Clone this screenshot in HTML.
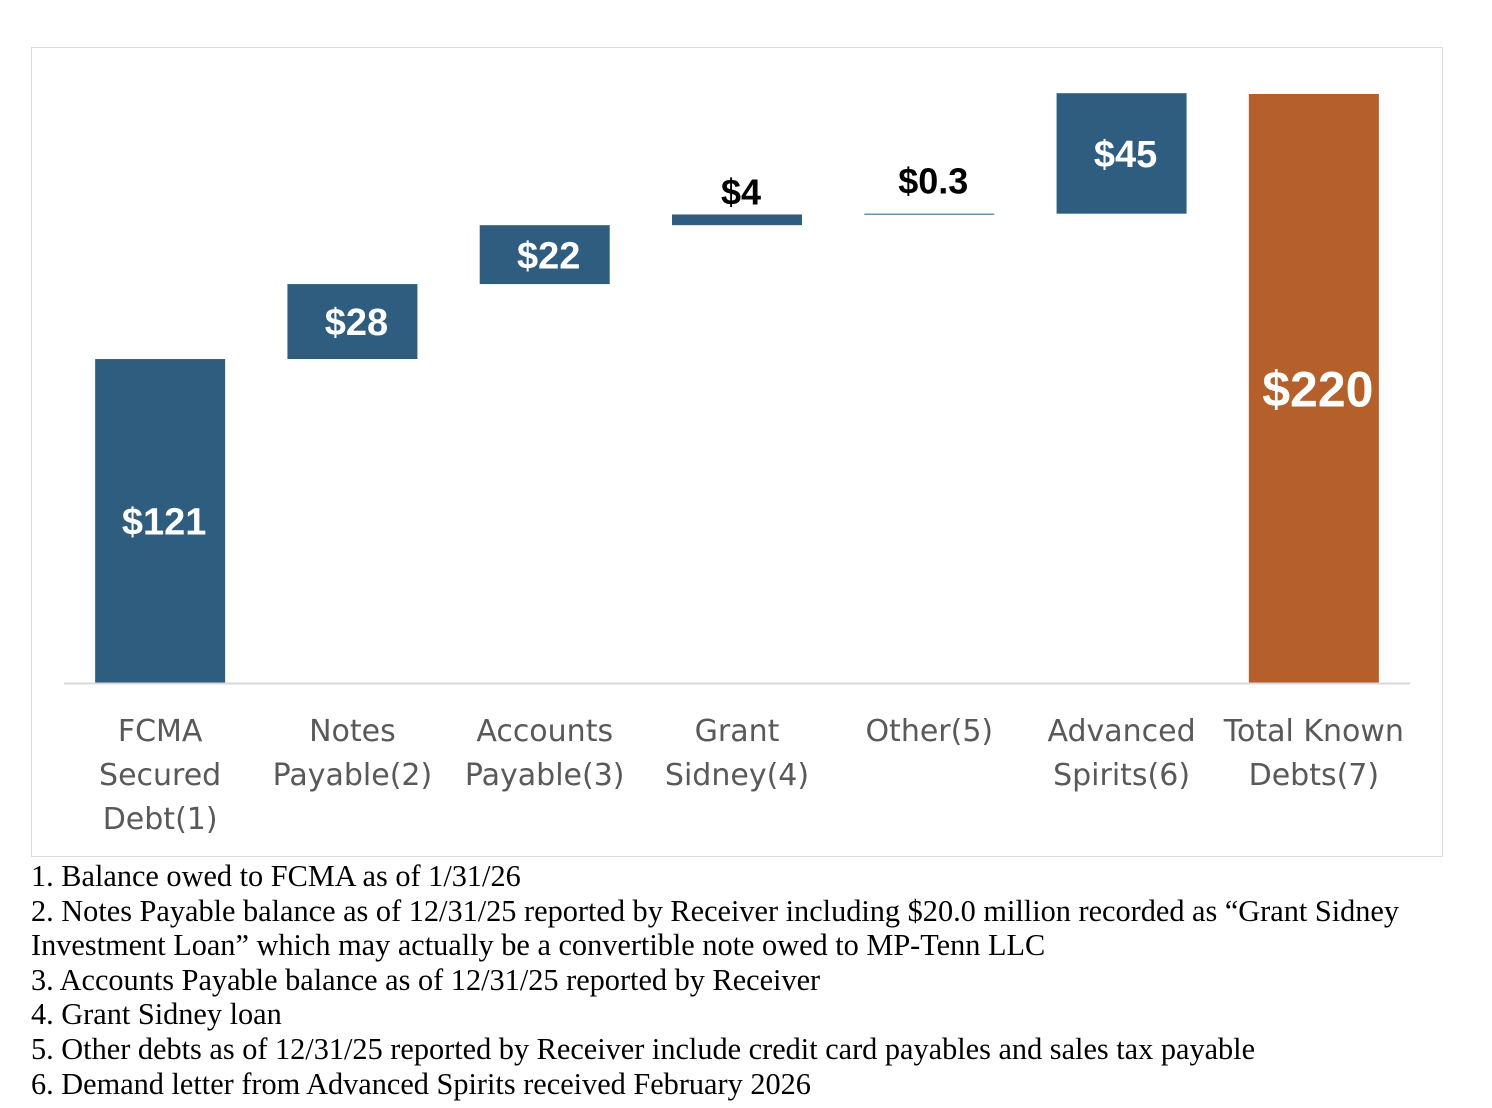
<!DOCTYPE html>
<html><head><meta charset="utf-8">
<style>
body{margin:0;width:1492px;height:1108px;background:#fff;overflow:hidden;position:relative;font-family:"Liberation Sans",sans-serif}
#frame{position:absolute;left:31px;top:47px;width:1412px;height:810px;border:1px solid #d9d9d9;box-sizing:border-box}
#notes{position:absolute;left:31px;top:859px;font-family:"Liberation Serif",serif;font-size:30.3px;line-height:34.6px;color:#000;width:1400px}
</style></head><body>
<div id="frame"></div>
<svg id="chart" width="1492" height="860" style="position:absolute;left:0;top:0"></svg>
<div id="notes">
<div>1. Balance owed to FCMA as of 1/31/26</div>
<div>2. Notes Payable balance as of 12/31/25 reported by Receiver including $20.0 million recorded as “Grant Sidney Investment Loan” which may actually be a convertible note owed to MP-Tenn LLC</div>
<div>3. Accounts Payable balance as of 12/31/25 reported by Receiver</div>
<div>4. Grant Sidney loan</div>
<div>5. Other debts as of 12/31/25 reported by Receiver include credit card payables and sales tax payable</div>
<div>6. Demand letter from Advanced Spirits received February 2026</div>
</div>
<script>
const categories=[["FCMA","Secured","Debt(1)"],["Notes","Payable(2)"],["Accounts","Payable(3)"],["Grant","Sidney(4)"],["Other(5)"],["Advanced","Spirits(6)"],["Total Known","Debts(7)"]];
const values=[121,28,22,4,0.3,45,220];
const valueLabels=["$121","$28","$22","$4","$0.3","$45","$220"];
const isTotal=[false,false,false,false,false,false,true];
const NS="http://www.w3.org/2000/svg";
const svg=document.getElementById('chart');
const x0=64,x1=1410,base=683,scale=589/220,bw=130;
const step=(x1-x0)/categories.length;
const xc=i=>x0+step*(i+0.5);
const y=v=>base-v*scale;
function mk(t,a){const e=document.createElementNS(NS,t);for(const k in a)e.setAttribute(k,a[k]);svg.appendChild(e);return e;}
let cum=0;
values.forEach((v,i)=>{
  let lo,hi;
  if(isTotal[i]){lo=0;hi=v;}else{lo=cum;hi=cum+v;cum+=v;}
  const top=y(hi),h=Math.max(y(lo)-y(hi),1);
  const r=mk('rect',{x:xc(i)-bw/2,y:top,width:bw,height:h,fill:isTotal[i]?'#B5602A':'#2F5D7F'});
  
  
  const inside=h>40;
  const t=mk('text',{x:xc(i)+4,'text-anchor':'middle','font-weight':'bold','font-family':'"Liberation Sans",sans-serif'});
  t.textContent=valueLabels[i];
  if(inside){const fs=isTotal[i]?50:38;t.setAttribute('y',top+h/2+fs*0.36);t.setAttribute('fill','#fff');t.setAttribute('font-size',fs);}
  else{t.setAttribute('y',top-(v<1?20:10));t.setAttribute('fill','#000');t.setAttribute('font-size',36);}
  
  
  categories[i].forEach((ln,j)=>{
    const c=mk('text',{x:xc(i),y:741+j*44,'text-anchor':'middle','font-size':30,fill:'#595959','font-family':'"DejaVu Sans","Liberation Sans",sans-serif'});
    c.textContent=ln;
    
    
  });
});
const ax=mk('line',{x1:x0,x2:x1,y1:base+0.5,y2:base+0.5,stroke:'#d9d9d9','stroke-width':2});


</script>
</body></html>
